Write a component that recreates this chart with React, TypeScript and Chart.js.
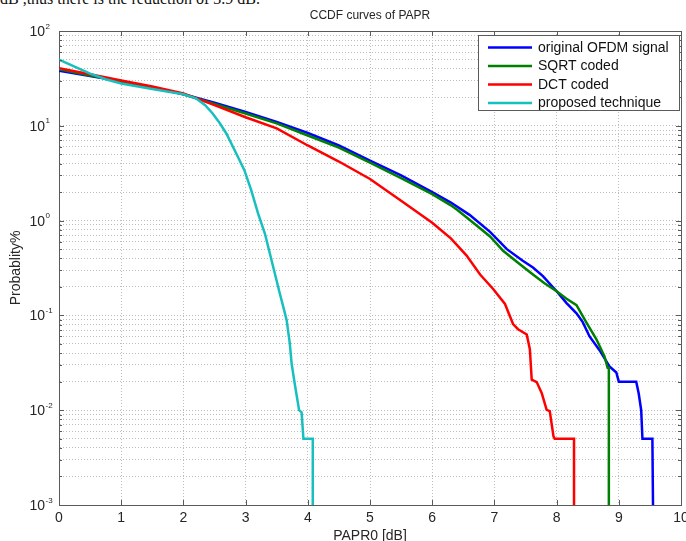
import React, { useEffect, useRef } from "react";
import { Chart, registerables } from "chart.js";

Chart.register(...registerables);

// ---- data ----
const chartTitle = "CCDF curves of PAPR";
const xAxisTitle = "PAPR0 [dB]";
const yAxisTitle = "Probablity%";
const captionText = "dB ,thus there is the reduction of 3.9 dB.";

const xTickValues = [0, 1, 2, 3, 4, 5, 6, 7, 8, 9, 10];
const yDecadeValues = [0.001, 0.01, 0.1, 1, 10, 100];
const yDecadeExponents = ["-3", "-2", "-1", "0", "1", "2"];

const seriesNames = ["original OFDM signal", "SQRT coded", "DCT coded", "proposed technique"];
const seriesColors = ["#0000ff", "#008000", "#ff0000", "#17bfbf"];

const originalX = [0, 0.5, 1, 1.5, 2, 2.5, 3, 3.5, 4, 4.5, 5, 5.5, 6, 6.3, 6.6, 6.93, 7.2, 7.45, 7.62, 7.78, 8.0, 8.16, 8.32, 8.42, 8.53, 8.69, 8.85, 8.96, 9.0, 9.28, 9.32, 9.36, 9.38, 9.54, 9.55];
const originalY = [38, 33.5, 29.5, 25.5, 21.5, 17.5, 14, 11, 8.4, 6.2, 4.3, 3.0, 2.0, 1.55, 1.15, 0.76, 0.5, 0.38, 0.32, 0.26, 0.18, 0.135, 0.105, 0.085, 0.06, 0.043, 0.029, 0.025, 0.02, 0.02, 0.015, 0.01, 0.005, 0.005, 0.001];

const sqrtX = [0, 0.5, 1, 1.5, 2, 2.5, 3, 3.5, 4, 4.5, 5, 5.5, 6, 6.3, 6.4, 6.6, 6.93, 7.14, 7.4, 7.62, 7.8, 8.0, 8.16, 8.32, 8.48, 8.64, 8.77, 8.82, 8.84, 8.84];
const sqrtY = [39.5, 34, 29.5, 25.5, 21.5, 17, 13.5, 10.6, 7.9, 5.9, 4.1, 2.8, 1.9, 1.45, 1.3, 1.02, 0.68, 0.48, 0.35, 0.27, 0.22, 0.18, 0.15, 0.128, 0.084, 0.056, 0.037, 0.028, 0.028, 0.001];

const dctX = [0, 0.5, 1, 1.5, 2, 2.5, 3, 3.5, 4, 4.5, 5, 5.5, 6, 6.3, 6.55, 6.77, 6.98, 7.17, 7.3, 7.38, 7.52, 7.57, 7.6, 7.68, 7.76, 7.84, 7.89, 7.95, 7.97, 8.24, 8.28, 8.28];
const dctY = [40.5, 35, 30, 26, 22, 16.5, 12.3, 9.4, 6.2, 4.2, 2.75, 1.62, 0.95, 0.65, 0.43, 0.27, 0.19, 0.132, 0.081, 0.0715, 0.063, 0.044, 0.021, 0.0198, 0.0152, 0.0101, 0.0098, 0.0053, 0.005, 0.005, 0.005, 0.001];

const proposedX = [0, 0.25, 0.5, 0.75, 1, 1.5, 2, 2.2, 2.35, 2.47, 2.58, 2.69, 2.85, 2.98, 3.09, 3.2, 3.31, 3.39, 3.47, 3.55, 3.61, 3.66, 3.71, 3.74, 3.79, 3.86, 3.9, 3.93, 4.06, 4.08, 4.08];
const proposedY = [50, 42, 35.5, 31, 28, 24.5, 21.5, 19.5, 16.5, 13.5, 10.8, 8.3, 5.1, 3.4, 2.1, 1.19, 0.73, 0.45, 0.277, 0.17, 0.12, 0.089, 0.051, 0.031, 0.019, 0.01, 0.0095, 0.005, 0.005, 0.005, 0.001];

const seriesX = [originalX, sqrtX, dctX, proposedX];
const seriesY = [originalY, sqrtY, dctY, proposedY];

const FONT = "'Liberation Sans', Arial, Helvetica, sans-serif";

const decorPlugin = {
  id: "matlabDecor",
  afterDraw(chart: any) {
    const { ctx, chartArea: a, scales } = chart;
    const xs = scales.x;
    const ys = scales.y;
    ctx.save();

    // box (top + right)
    ctx.strokeStyle = "#5a5a5a";
    ctx.lineWidth = 1;
    ctx.beginPath();
    ctx.moveTo(Math.round(a.left) + 0.5, Math.round(a.top) + 0.5);
    ctx.lineTo(Math.round(a.right) + 0.5, Math.round(a.top) + 0.5);
    ctx.lineTo(Math.round(a.right) + 0.5, Math.round(a.bottom) + 0.5);
    ctx.stroke();

    // inward tick marks
    ctx.beginPath();
    xTickValues.forEach((v) => {
      const px = Math.round(xs.getPixelForValue(v)) + 0.5;
      ctx.moveTo(px, a.bottom);
      ctx.lineTo(px, a.bottom - 5);
      ctx.moveTo(px, a.top);
      ctx.lineTo(px, a.top + 5);
    });
    ys.ticks.forEach((t: any) => {
      const py = Math.round(ys.getPixelForValue(t.value)) + 0.5;
      const lg = Math.log10(t.value);
      const len = Math.abs(lg - Math.round(lg)) < 1e-9 ? 5 : 3;
      ctx.moveTo(a.left, py);
      ctx.lineTo(a.left + len, py);
      ctx.moveTo(a.right, py);
      ctx.lineTo(a.right - len, py);
    });
    ctx.stroke();

    // y tick labels 10^k
    ctx.fillStyle = "#262626";
    yDecadeValues.forEach((v, i) => {
      const py = ys.getPixelForValue(v);
      ctx.font = `14px ${FONT}`;
      ctx.textAlign = "right";
      ctx.textBaseline = "alphabetic";
      ctx.fillText("10", 45, py + 5);
      ctx.font = `8px ${FONT}`;
      ctx.textAlign = "left";
      ctx.fillText(yDecadeExponents[i], 45.5, py - 2.5);
    });

    // titles
    ctx.fillStyle = "#262626";
    ctx.textAlign = "center";
    ctx.textBaseline = "alphabetic";
    ctx.font = `12px ${FONT}`;
    ctx.fillText(chartTitle, (a.left + a.right) / 2, 19);
    ctx.font = `14px ${FONT}`;
    ctx.fillText(xAxisTitle, (a.left + a.right) / 2, 540);
    ctx.save();
    ctx.translate(20, (a.top + a.bottom) / 2);
    ctx.rotate(-Math.PI / 2);
    ctx.fillText(yAxisTitle, 0, 0);
    ctx.restore();

    // legend
    const lx = a.right - 203;
    const ly = a.top + 4;
    const lw = 201;
    const lh = 75;
    ctx.fillStyle = "#ffffff";
    ctx.fillRect(lx, ly, lw, lh);
    ctx.strokeStyle = "#5a5a5a";
    ctx.lineWidth = 1;
    ctx.strokeRect(Math.round(lx) + 0.5, Math.round(ly) + 0.5, lw, lh);
    chart.data.datasets.forEach((ds: any, i: number) => {
      const cy = ly + 12.5 + i * 18.5;
      ctx.strokeStyle = ds.borderColor;
      ctx.lineWidth = 2.5;
      ctx.beginPath();
      ctx.moveTo(lx + 10, cy);
      ctx.lineTo(lx + 54, cy);
      ctx.stroke();
      ctx.fillStyle = "#111";
      ctx.font = `14px ${FONT}`;
      ctx.textAlign = "left";
      ctx.textBaseline = "middle";
      ctx.fillText(ds.label, lx + 60, cy + 0.5);
    });

    ctx.restore();
  },
};

export default function App() {
  const canvasRef = useRef<HTMLCanvasElement | null>(null);

  useEffect(() => {
    if (!canvasRef.current) return;
    const datasets = seriesNames.map((name, i) => ({
      label: name,
      data: seriesX[i].map((x, j) => ({ x, y: seriesY[i][j] })),
      borderColor: seriesColors[i],
      backgroundColor: seriesColors[i],
      borderWidth: 2.5,
      pointRadius: 0,
      tension: 0,
      fill: false,
      order: seriesNames.length - i,
    }));

    const chart = new Chart(canvasRef.current, {
      type: "line",
      data: { datasets },
      options: {
        animation: false,
        responsive: false,
        devicePixelRatio: 1,
        layout: { padding: { left: 0, right: 5, top: 31, bottom: 0 } },
        plugins: {
          legend: { display: false },
          title: { display: false },
          tooltip: { enabled: false },
        },
        scales: {
          x: {
            type: "linear",
            min: 0,
            max: 10,
            afterBuildTicks: (scale: any) => {
              scale.ticks = xTickValues.map((v) => ({ value: v }));
            },
            afterFit: (scale: any) => {
              scale.height = 36;
              scale.paddingLeft = 0;
              scale.paddingRight = 0;
            },
            ticks: {
              padding: 5,
              maxRotation: 0,
              autoSkip: false,
              color: "#262626",
              font: { family: FONT, size: 14 },
              callback: (v: any) => String(v),
            },
            grid: {
              drawTicks: false,
              color: (c: any) => (c.tick && (c.tick.value === 0 || c.tick.value === 10) ? "rgba(0,0,0,0)" : "#bdbdbd"),
              lineWidth: 1,
            },
            border: { display: true, color: "#5a5a5a", width: 1, dash: [1, 2] },
          },
          y: {
            type: "logarithmic",
            min: 0.001,
            max: 100,
            afterBuildTicks: (scale: any) => {
              const t: any[] = [];
              for (let k = -3; k <= 1; k++) {
                for (let m = 1; m <= 9; m++) {
                  t.push({ value: m * Math.pow(10, k), major: m === 1 });
                }
              }
              t.push({ value: 100, major: true });
              scale.ticks = t;
            },
            afterFit: (scale: any) => {
              scale.width = 59;
              scale.paddingTop = 0;
              scale.paddingBottom = 0;
            },
            ticks: { display: false, autoSkip: false },
            grid: {
              drawTicks: false,
              color: (c: any) => (c.tick && (c.tick.value <= 0.0011 || c.tick.value >= 99) ? "rgba(0,0,0,0)" : "#bdbdbd"),
              lineWidth: 1,
            },
            border: { display: true, color: "#5a5a5a", width: 1, dash: [1, 2] },
          },
        },
      },
      plugins: [decorPlugin],
    } as any);

    return () => {
      chart.destroy();
    };
  }, []);

  return (
    <div style={{ position: "absolute", left: 0, top: 0, width: 686, height: 541, overflow: "hidden", background: "#fff" }}>
      <div
        style={{
          position: "absolute",
          left: 0,
          top: -9,
          fontFamily: "'Liberation Serif', 'Times New Roman', serif",
          fontSize: 16,
          lineHeight: "15px",
          color: "#111",
          whiteSpace: "nowrap",
        }}
      >
        {captionText}
      </div>
      <canvas ref={canvasRef} width={686} height={541} style={{ position: "absolute", left: 0, top: 0, width: 686, height: 541 }} />
    </div>
  );
}
